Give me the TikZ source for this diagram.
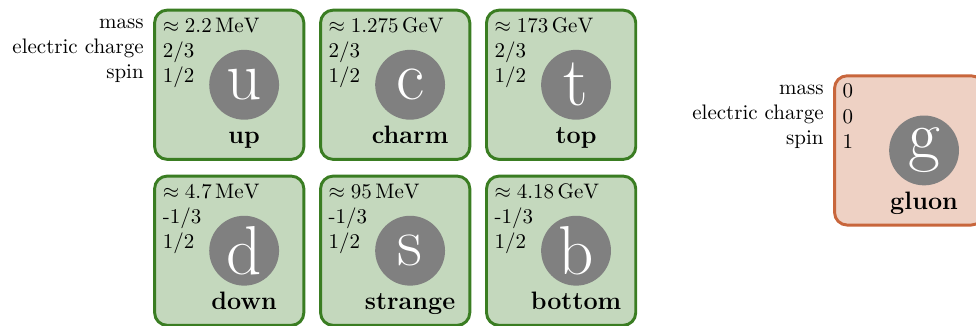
\documentclass[tikz,border=0pt]{standalone}
\usepackage{xcolor}
\usepackage{amsmath, amssymb}
\usepackage{tikz}
\usetikzlibrary{positioning}
\definecolor{quarkgreen}{RGB}{58, 125, 34}
\definecolor{bosonorange}{RGB}{200, 102, 60}

% contents of one particle box: box name, letter, mass, charge, spin, name
\newcommand\particleinfo[6]{%
  \node[sym] (#1-sym) at ([xshift=0.25cm]#1.center) {#2};
  \node[stats] (#1-stats) at ([shift={(3.7pt,-1.9pt)}]#1.north west)
    {\strut#3\\\strut#4\\\strut#5};
  \path (#1-sym.center |- #1.south) ++(0,7.4pt)
    node[pname] (#1-name) {#6};
}

\begin{document}
\begin{tikzpicture}[
    node distance=0.28cm and 0.28cm,
    particle/.style={
      rectangle,
      draw=#1,
      fill=#1!30,
      line width=1.4pt,
      rounded corners=6pt,
      minimum size=2.5cm,
      inner sep=0pt,
      outer sep=0pt
    },
    sym/.style={
      circle,
      fill=gray,
      text=white,
      minimum size=1.17cm,
      inner sep=0pt,
      font=\fontsize{33}{33}\selectfont
    },
    stats/.style={
      anchor=north west,
      align=left,
      inner sep=0pt
    },
    labels/.style={
      anchor=north east,
      align=right,
      inner sep=0pt
    },
    pname/.style={
      anchor=base,
      inner sep=0pt,
      font=\large\bfseries
    }
  ]

    \useasboundingbox (-3.84,-4.04) rectangle (12.51,1.42);

    % Row 1
    \node[particle=quarkgreen] (up) at (0,0) {};
    \node[particle=quarkgreen, right=of up] (charm) {};
    \node[particle=quarkgreen, right=of charm] (top) {};

    % Row 2
    \node[particle=quarkgreen, below=of up] (down) {};
    \node[particle=quarkgreen, right=of down] (strange) {};
    \node[particle=quarkgreen, right=of strange] (bottom) {};

    % Gluon
    \node[particle=bosonorange, right=3.33cm of top, yshift=-1.1cm] (gluon) {};

    % Contents
    \particleinfo{up}{u}{$\approx 2.2\,\mathrm{MeV}$}{2/3}{1/2}{up}
    \particleinfo{charm}{c}{$\approx 1.275\,\mathrm{GeV}$}{2/3}{1/2}{charm}
    \particleinfo{top}{t}{$\approx 173\,\mathrm{GeV}$}{2/3}{1/2}{top}
    \particleinfo{down}{d}{$\approx 4.7\,\mathrm{MeV}$}{-1/3}{1/2}{down}
    \particleinfo{strange}{s}{$\approx 95\,\mathrm{MeV}$}{-1/3}{1/2}{strange}
    \particleinfo{bottom}{b}{$\approx 4.18\,\mathrm{GeV}$}{-1/3}{1/2}{bottom}
    \particleinfo{gluon}{g}{0}{0}{1}{gluon}

    % Row labels
    \node[labels] (uplabels) at ([shift={(-5pt,-0.2pt)}]up.north west)
      {\strut mass\\\strut electric charge\\\strut spin};
    \node[labels] (gluonlabels) at ([shift={(-5pt,-0.2pt)}]gluon.north west)
      {\strut mass\\\strut electric charge\\\strut spin};

  \end{tikzpicture}
\end{document}
